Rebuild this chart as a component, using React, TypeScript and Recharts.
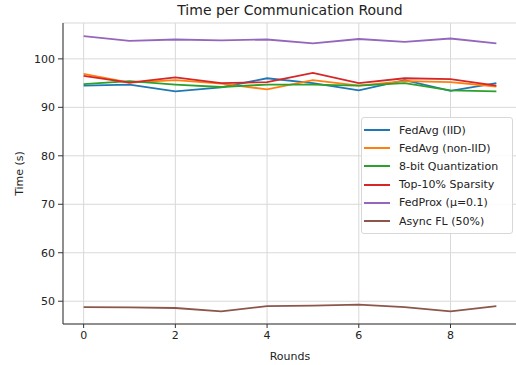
import React from 'react';
import {
    LineChart,
    Line,
    XAxis,
    YAxis,
    CartesianGrid
} from 'recharts';

// Rounds on the x axis
const rounds = [0, 1, 2, 3, 4, 5, 6, 7, 8, 9];

// Time per round (s)
const fedAvgIid = [94.5, 94.7, 93.3, 94.1, 96.0, 95.0, 93.5, 95.6, 93.4, 95.0];
const fedAvgNonIid = [96.9, 95.1, 95.6, 94.9, 93.7, 95.6, 94.5, 95.4, 95.2, 94.3];
const quant8 = [94.8, 95.4, 94.7, 94.2, 94.7, 94.7, 94.5, 95.0, 93.5, 93.3];
const top10 = [96.5, 95.1, 96.2, 95.0, 95.2, 97.1, 95.0, 96.0, 95.8, 94.5];
const fedProx = [104.7, 103.7, 104.0, 103.8, 104.0, 103.2, 104.1, 103.5, 104.2, 103.2];
const asyncFl = [48.8, 48.75, 48.6, 47.9, 49.0, 49.1, 49.3, 48.8, 47.9, 49.0];

const xTicks = [0, 2, 4, 6, 8];
const yTicks = [50, 60, 70, 80, 90, 100];

const series = [
    { key: 'fedAvgIid', name: 'FedAvg (IID)', color: '#1f77b4', values: fedAvgIid },
    { key: 'fedAvgNonIid', name: 'FedAvg (non-IID)', color: '#ff7f0e', values: fedAvgNonIid },
    { key: 'quant8', name: '8-bit Quantization', color: '#2ca02c', values: quant8 },
    { key: 'top10', name: 'Top-10% Sparsity', color: '#d62728', values: top10 },
    { key: 'fedProx', name: 'FedProx (\u03bc=0.1)', color: '#9467bd', values: fedProx },
    { key: 'asyncFl', name: 'Async FL (50%)', color: '#8c564b', values: asyncFl }
];

const data = rounds.map((r, i) => {
    const row: Record<string, number> = { round: r };
    series.forEach((s) => { row[s.key] = s.values[i]; });
    return row;
});

const FONT = '"DejaVu Sans", sans-serif';

// matplotlib-style legend box, placed over the plot
const LegendBox = () => (
    <div style={{
        position: 'absolute',
        left: 361,
        top: 117,
        border: '1px solid #d8d8d8',
        borderRadius: 3,
        background: 'rgba(255,255,255,0.85)',
        padding: '3px 6px 3px 2px',
        fontFamily: FONT,
        fontSize: 11,
        color: '#222',
        width: 142
    }}>
        {series.map((s) => (
            <div key={s.key} style={{ display: 'flex', alignItems: 'center', height: 18.2 }}>
                <span style={{ display: 'inline-block', width: 26, height: 2, background: s.color, marginRight: 9 }} />
                <span style={{ whiteSpace: 'nowrap' }}>{s.name}</span>
            </div>
        ))}
    </div>
);

export default function App() {
    return (
        <div style={{ position: 'absolute', left: 0, top: 0, width: 516, height: 365, overflow: 'hidden', background: '#fff' }}>
            <div style={{
                position: 'absolute', top: 2, left: 0, width: 580, textAlign: 'center',
                fontFamily: FONT, fontSize: 14, color: '#222'
            }}>
                Time per Communication Round
            </div>
            <LineChart
                width={520}
                height={365}
                data={data}
                margin={{ top: 23, right: 3, bottom: 0, left: 23 }}
            >
                <CartesianGrid stroke="#d9d9d9" strokeWidth={1} />
                <XAxis
                    dataKey="round"
                    type="number"
                    domain={[-0.45, 9.45]}
                    ticks={xTicks}
                    allowDataOverflow
                    height={41}
                    tickSize={4}
                    tickMargin={3}
                    stroke="#333"
                    tick={{ fontSize: 11, fill: '#222', fontFamily: FONT }}
                    label={{ value: 'Rounds', position: 'insideBottom', offset: 5, fontSize: 11, fill: '#222', fontFamily: FONT }}
                />
                <XAxis
                    xAxisId="top"
                    orientation="top"
                    dataKey="round"
                    type="number"
                    domain={[-0.45, 9.45]}
                    height={0}
                    tick={false}
                    tickLine={false}
                    stroke="#333"
                />
                <YAxis
                    type="number"
                    domain={[45.3, 107.4]}
                    ticks={yTicks}
                    allowDataOverflow
                    width={40}
                    tickSize={5}
                    tickMargin={3}
                    stroke="#333"
                    tick={{ fontSize: 11, fill: '#222', fontFamily: FONT }}
                    label={{ value: 'Time (s)', angle: -90, position: 'insideLeft', offset: -4, fontSize: 11, fill: '#222', fontFamily: FONT, style: { textAnchor: 'middle' } }}
                />
                {series.map((s) => (
                    <Line
                        key={s.key}
                        dataKey={s.key}
                        name={s.name}
                        stroke={s.color}
                        strokeWidth={1.8}
                        dot={false}
                        activeDot={false}
                        type="linear"
                        isAnimationActive={false}
                    />
                ))}
            </LineChart>
            <LegendBox />
        </div>
    );
}
